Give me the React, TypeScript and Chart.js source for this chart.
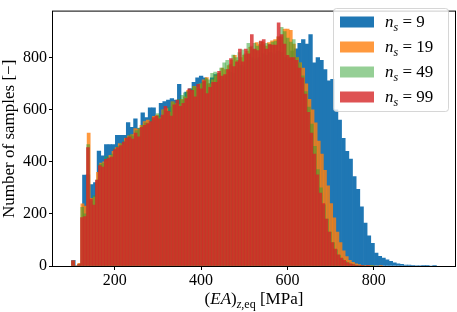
import React, { useEffect, useRef } from "react";
import { Chart, registerables } from "chart.js";

Chart.register(...registerables);

const FONT = '"Liberation Serif", "DejaVu Serif", serif';
const TICK_SIZE = 16;
const TITLE_SIZE = 17;

// Series: number of samples n_s
const seriesNs = ["9", "19", "49", "99"];
const seriesColors = [
  "rgba(31,119,180,1)",
  "rgba(255,127,14,0.8)",
  "rgba(44,160,44,0.5)",
  "rgba(214,39,40,0.8)",
];
// each histogram: 100 bins starting at binStart with its own bin width [MPa]
const binStart = 100;
const binWidths = [8.45, 7.2, 7.0, 6.9];

const countsNs9 = [
  22, 0, 8, 349, 350, 313, 320, 441, 423, 466,
  466, 466, 502, 502, 502, 551, 533, 565, 528, 588,
  570, 607, 607, 576, 625, 631, 637, 643, 637, 698,
  637, 668, 680, 705, 723, 729, 723, 700, 723, 735,
  710, 715, 730, 745, 740, 760, 770, 765, 790, 800,
  795, 800, 815, 810, 820, 815, 825, 820, 800, 795,
  825, 834, 855, 870, 852, 889, 780, 800, 790, 754,
  711, 717, 600, 560, 490, 440, 411, 343, 294, 227,
  165, 116, 87, 50, 37, 30, 24, 18, 12, 8,
  6, 4, 4, 3, 2, 2, 1, 1, 0, 1,
];
const countsNs19 = [
  20, 0, 10, 239, 230, 510, 260, 265, 360, 395,
  400, 405, 425, 440, 455, 470, 465, 490, 500, 505,
  528, 525, 540, 555, 560, 550, 575, 580, 570, 600,
  605, 590, 630, 625, 620, 640, 650, 675, 670, 690,
  685, 700, 715, 724, 700, 715, 730, 740, 760, 754,
  770, 790, 809, 790, 800, 810, 825, 840, 830, 858,
  850, 860, 845, 858, 865, 870, 880, 880, 910, 910,
  905, 852, 800, 780, 760, 700, 640, 600, 550, 480,
  430, 367, 308, 240, 185, 130, 90, 58, 36, 22,
  14, 8, 5, 3, 2, 1, 1, 0, 0, 1,
];
const countsNs49 = [
  18, 0, 6, 225, 200, 466, 250, 270, 330, 390,
  395, 420, 415, 430, 450, 460, 470, 480, 495, 505,
  500, 520, 530, 540, 550, 545, 565, 560, 585, 575,
  600, 595, 610, 630, 625, 640, 655, 665, 670, 680,
  690, 685, 700, 705, 720, 715, 740, 745, 740, 760,
  780, 790, 775, 810, 800, 820, 830, 815, 855, 845,
  855, 845, 860, 850, 855, 850, 860, 864, 880, 917,
  900, 875, 860, 870, 800, 780, 730, 670, 610, 545,
  460, 370, 300, 235, 180, 130, 90, 62, 42, 28,
  18, 12, 7, 4, 3, 2, 1, 0, 0, 1,
];
const countsNs99 = [
  20, 0, 5, 186, 190, 455, 257, 234, 330, 386,
  380, 410, 414, 418, 447, 455, 462, 476, 491, 496,
  487, 510, 496, 533, 540, 547, 555, 570, 576, 565,
  580, 613, 594, 576, 619, 637, 613, 625, 643, 680,
  675, 650, 698, 680, 711, 662, 686, 705, 705, 748,
  729, 735, 754, 797, 766, 784, 833, 784, 833, 815,
  889, 833, 827, 864, 870, 833, 850, 848, 848, 934,
  889, 852, 809, 800, 800, 790, 760, 723, 660, 590,
  510, 430, 350, 280, 240, 180, 130, 90, 65, 43,
  30, 22, 13, 8, 5, 3, 2, 1, 0, 1,
];
const seriesCounts = [countsNs9, countsNs19, countsNs49, countsNs99];

const xTickValues = [200, 400, 600, 800];
const yTickValues = [0, 200, 400, 600, 800];
const xMin = 57;
const xMax = 988;
const yMin = 0;
const yMax = 977;
const yTitle = "Number of samples [\u2212]";

type Part = { t: string; it?: boolean; sub?: boolean };
const xTitleParts: Part[] = [
  { t: "(" },
  { t: "EA", it: true },
  { t: ")" },
  { t: "z", it: true, sub: true },
  { t: ",eq", sub: true },
  { t: " [MPa]" },
];

function partFont(p: Part, size: number) {
  const s = p.sub ? Math.round(size * 0.7) : size;
  return `${p.it ? "italic " : ""}${s}px ${FONT}`;
}

function drawParts(ctx: CanvasRenderingContext2D, parts: Part[], x: number, y: number, size: number, align: "left" | "center") {
  let total = 0;
  for (const p of parts) {
    ctx.font = partFont(p, size);
    total += ctx.measureText(p.t).width;
  }
  let cx = align === "center" ? x - total / 2 : x;
  ctx.textAlign = "left";
  ctx.textBaseline = "alphabetic";
  for (const p of parts) {
    ctx.font = partFont(p, size);
    ctx.fillText(p.t, cx, p.sub ? y + size * 0.22 : y);
    cx += ctx.measureText(p.t).width;
  }
}

const overlayPlugin = {
  id: "overlay",
  afterDraw(chart: any) {
    const { ctx, chartArea: a } = chart;
    ctx.save();
    // frame
    ctx.strokeStyle = "#000";
    ctx.lineWidth = 1;
    ctx.strokeRect(a.left - 0.5, a.top - 0.5, a.right - a.left + 1, a.bottom - a.top + 1);
    // x title
    ctx.fillStyle = "#000";
    drawParts(ctx, xTitleParts, (a.left + a.right) / 2, 304, TITLE_SIZE, "center");
    // legend
    const bx = 333.5, by = 8.5, bw = 115, bh = 103, r = 3;
    ctx.beginPath();
    ctx.moveTo(bx + r, by);
    ctx.arcTo(bx + bw, by, bx + bw, by + bh, r);
    ctx.arcTo(bx + bw, by + bh, bx, by + bh, r);
    ctx.arcTo(bx, by + bh, bx, by, r);
    ctx.arcTo(bx, by, bx + bw, by, r);
    ctx.closePath();
    ctx.fillStyle = "rgba(255,255,255,0.8)";
    ctx.fill();
    ctx.strokeStyle = "rgba(204,204,204,0.8)";
    ctx.stroke();
    seriesNs.forEach((n, i) => {
      const cy = 22 + i * 25;
      ctx.fillStyle = seriesColors[i];
      ctx.fillRect(340, cy - 5.5, 34, 11);
      ctx.fillStyle = "#000";
      drawParts(
        ctx,
        [{ t: "n", it: true }, { t: "s", it: true, sub: true }, { t: " = " + n }],
        385,
        cy + 5,
        TITLE_SIZE,
        "left"
      );
    });
    ctx.restore();
  },
};

const axisIds = ["xb", "xo", "xg", "xr"];

export default function App() {
  const ref = useRef<HTMLCanvasElement | null>(null);
  useEffect(() => {
    document.body.style.margin = "0";
    const canvas = ref.current;
    if (!canvas) return;
    const datasets = seriesCounts.map((counts, k) => ({
      type: "bar" as const,
      label: "n_s = " + seriesNs[k],
      data: counts.map((c, i) => ({ x: binStart + binWidths[k] * (i + 0.5), y: c })),
      xAxisID: axisIds[k],
      yAxisID: "y",
      backgroundColor: seriesColors[k],
      borderWidth: 0,
      barPercentage: 1,
      categoryPercentage: 1,
      grouped: false,
      order: 3 - k,
    }));
    const hidden: any = {};
    axisIds.forEach((id) => {
      hidden[id] = {
        type: "linear",
        axis: "x",
        display: false,
        min: xMin,
        max: xMax,
        offset: false,
        grid: { offset: false },
      };
    });
    const tickFont = { family: FONT, size: TICK_SIZE };
    const chart = new Chart(canvas, {
      type: "bar",
      data: { datasets },
      options: {
        animation: false,
        responsive: false,
        maintainAspectRatio: false,
        layout: { padding: { top: 1, right: 2, left: 0, bottom: 0 } },
        plugins: { legend: { display: false }, tooltip: { enabled: false } },
        scales: {
          x: {
            type: "linear",
            position: "bottom",
            min: xMin,
            max: xMax,
            offset: false,
            afterBuildTicks: (s: any) => {
              s.ticks = xTickValues.map((v) => ({ value: v }));
            },
            afterFit: (s: any) => {
              s.height = 46;
            },
            grid: { display: true, offset: false, drawOnChartArea: false, drawTicks: true, tickLength: 4, color: "#000" },
            border: { display: false },
            ticks: { color: "#000", font: tickFont, padding: 1, maxRotation: 0, autoSkip: false },
          },
          y: {
            type: "linear",
            position: "left",
            min: yMin,
            max: yMax,
            afterBuildTicks: (s: any) => {
              s.ticks = yTickValues.map((v) => ({ value: v }));
            },
            afterFit: (s: any) => {
              s.width = 53;
            },
            grid: { display: true, drawOnChartArea: false, drawTicks: true, tickLength: 4, color: "#000" },
            border: { display: false },
            ticks: { color: "#000", font: tickFont, padding: 2, autoSkip: false },
            title: {
              display: true,
              text: yTitle,
              color: "#000",
              font: { family: FONT, size: TITLE_SIZE, lineHeight: 1.1 },
              padding: { top: 0, bottom: 0 },
            },
          },
          ...hidden,
        },
      } as any,
      plugins: [overlayPlugin],
    });
    return () => chart.destroy();
  }, []);
  return (
    <div style={{ position: "absolute", left: 0, top: 0, width: 457, height: 312 }}>
      <canvas ref={ref} width={457} height={312} style={{ width: 457, height: 312, display: "block" }} />
    </div>
  );
}
